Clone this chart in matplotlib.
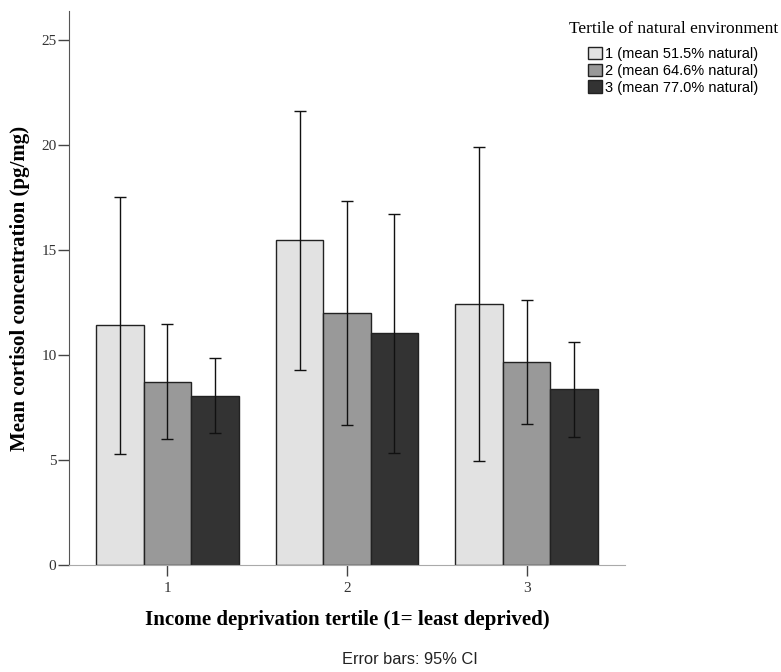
import matplotlib
matplotlib.use('Agg')
import matplotlib.pyplot as plt
import numpy as np

# income deprivation tertile groups
groups = ['1', '2', '3']
series_labels = ['1 (mean 51.5% natural)', '2 (mean 64.6% natural)', '3 (mean 77.0% natural)']

# mean cortisol (pg/mg) per natural-environment tertile
means_t1 = [11.40, 15.46, 12.43]
means_t2 = [8.73, 12.01, 9.67]
means_t3 = [8.06, 11.03, 8.37]

# 95% CI lower / upper bounds
lo_t1 = [5.29, 9.29, 4.97]
hi_t1 = [17.51, 21.60, 19.87]
lo_t2 = [5.98, 6.67, 6.71]
hi_t2 = [11.46, 17.33, 12.62]
lo_t3 = [6.27, 5.35, 6.11]
hi_t3 = [9.84, 16.68, 10.62]

colors = ['#e2e2e2', '#999999', '#333333']
serif = ['Liberation Serif', 'DejaVu Serif']
sans = ['Liberation Sans', 'DejaVu Sans']

fig = plt.figure(figsize=(7.81, 6.72), dpi=100)
ax = fig.add_axes([0.0883, 0.1592, 0.712, 0.824])

x = np.arange(1, len(groups) + 1)
width = 0.264
all_means = [means_t1, means_t2, means_t3]
all_lo = [lo_t1, lo_t2, lo_t3]
all_hi = [hi_t1, hi_t2, hi_t3]

for i in range(3):
    pos = x + (i - 1) * width
    m = np.array(all_means[i])
    yerr = [m - np.array(all_lo[i]), np.array(all_hi[i]) - m]
    ax.bar(pos, m, width, color=colors[i], edgecolor='#222222', linewidth=1.0,
           label=series_labels[i], zorder=2)
    ax.errorbar(pos, m, yerr=yerr, fmt='none', ecolor='#111111', elinewidth=1.0,
                capsize=4, capthick=1.0, zorder=3)

ax.set_xlim(0.452, 3.548)
ax.set_ylim(0, 26.35)
ax.set_xticks(x)
ax.set_xticklabels(groups)
ax.set_yticks([0, 5, 10, 15, 20, 25])

for s in ['top', 'right']:
    ax.spines[s].set_visible(False)
ax.spines['left'].set_color('#555555')
ax.spines['bottom'].set_color('#aaaaaa')
ax.tick_params(axis='both', length=8, width=1, color='#444444', labelcolor='#333333', pad=1)
ax.tick_params(axis='x', pad=4)
for lab in ax.get_xticklabels() + ax.get_yticklabels():
    lab.set_family(serif)
    lab.set_fontsize(11)

ax.set_ylabel('Mean cortisol concentration (pg/mg)', family=serif, fontsize=15,
              fontweight='bold')
ax.yaxis.set_label_coords(-0.07, 0.5)
ax.set_xlabel('Income deprivation tertile (1= least deprived)', family=serif, fontsize=15,
              fontweight='bold')
ax.xaxis.set_label_coords(0.5, -0.081)

leg = fig.legend(loc='upper right', bbox_to_anchor=(778 / 781, 1 - 21 / 672), frameon=False,
                 prop={'family': sans, 'size': 10.5}, handlelength=0.96, handleheight=0.96,
                 handletextpad=0.2, labelspacing=0.17, borderaxespad=0, borderpad=0,
                 title='Tertile of natural environment',
                 title_fontproperties={'family': serif, 'size': 12.5})
leg._legend_box.sep = 7

fig.text(410 / 781, 1 - 660 / 672, 'Error bars: 95% CI', family=sans, fontsize=11.8,
         ha='center', va='center', color='#222222')

fig.savefig('out.png', dpi=100)
